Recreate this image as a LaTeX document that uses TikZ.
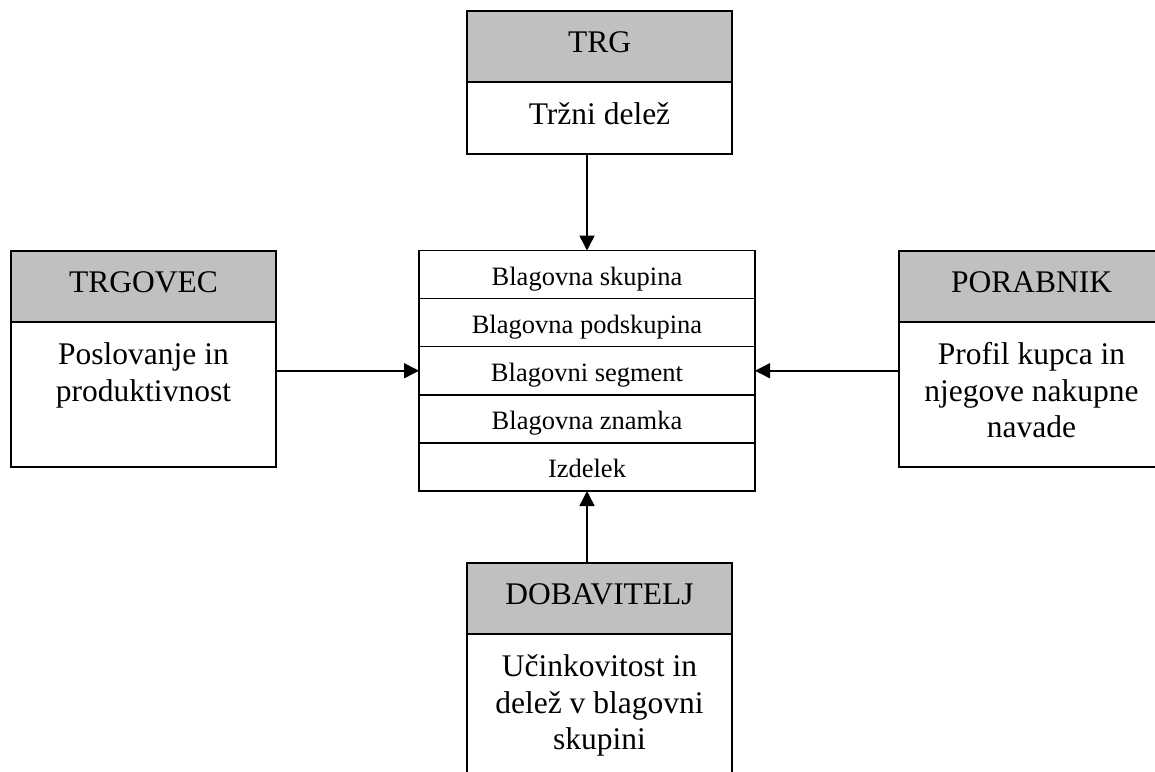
\documentclass[tikz,border=0pt]{standalone}
\usepackage{fontspec}
\setmainfont{Liberation Serif}
\usetikzlibrary{arrows.meta,calc}
\definecolor{headgray}{RGB}{192,192,192}
\begin{document}
\begin{tikzpicture}[x=1pt,y=-1pt,
  frame/.style={draw=black,line width=1.5pt,rectangle,inner sep=0pt,outer sep=0pt},
  headbox/.style={frame,fill=headgray,minimum width=265pt,minimum height=71pt,
    font=\fontsize{31.5}{36}\selectfont,text height=11pt,text depth=0pt},
  bodybox/.style={frame,fill=white,minimum width=265pt},
  bodytext/.style={anchor=north,inner sep=0pt,align=center,
    font=\fontsize{31.5}{36.5}\selectfont},
  rowbox/.style={frame,minimum width=336pt,minimum height=48.1pt,
    font=\fontsize{26.5}{30}\selectfont,text height=22pt,text depth=0pt},
  link/.style={line width=1.5pt,-{Triangle[length=15pt,width=15pt]}}]
\useasboundingbox (0,0) rectangle (1155,771);
\clip (0,0) rectangle (1155,771);

% central stack of levels
\node[rowbox,anchor=north west] (r1) at (419,250.5) {Blagovna skupina};
\node[rowbox,anchor=north west] (r2) at (r1.south west) {Blagovna podskupina};
\node[rowbox,anchor=north west] (r3) at (r2.south west) {Blagovni segment};
\node[rowbox,anchor=north west] (r4) at (r3.south west) {Blagovna znamka};
\node[rowbox,anchor=north west] (r5) at (r4.south west) {Izdelek};

% TRG
\node[headbox,anchor=north west] (trgH) at (467,11) {TRG};
\node[bodybox,anchor=north west,minimum height=72pt] (trgB) at (trgH.south west) {};
\node[bodytext] (trgT) at ($(trgB.north)+(0,20.5)$) {Tržni delež};

% TRGOVEC
\node[headbox,anchor=north west] (trgovecH) at (11,251) {TRGOVEC};
\node[bodybox,anchor=north west,minimum height=145pt] (trgovecB) at (trgovecH.south west) {};
\node[bodytext] (trgovecT) at ($(trgovecB.north)+(0,20.5)$) {Poslovanje in\\produktivnost};

% PORABNIK
\node[headbox,anchor=north west] (porH) at (899,251) {PORABNIK};
\node[bodybox,anchor=north west,minimum height=145pt] (porB) at (porH.south west) {};
\node[bodytext] (porT) at ($(porB.north)+(0,20.5)$) {Profil kupca in\\njegove nakupne\\navade};

% DOBAVITELJ
\node[headbox,anchor=north west] (dobH) at (467,563) {DOBAVITELJ};
\node[bodybox,anchor=north west,minimum height=170pt] (dobB) at (dobH.south west) {};
\node[bodytext] (dobT) at ($(dobB.north)+(0,20.5)$) {Učinkovitost in\\delež v blagovni\\skupini};

% connectors
\draw[link] (trgB.south -| r1.north) -- (r1.north);
\draw[link] (trgovecB.east |- r3.west) -- (r3.west);
\draw[link] (porB.west |- r3.east) -- (r3.east);
\draw[link] (dobH.north -| r5.south) -- (r5.south);
\end{tikzpicture}
\end{document}
